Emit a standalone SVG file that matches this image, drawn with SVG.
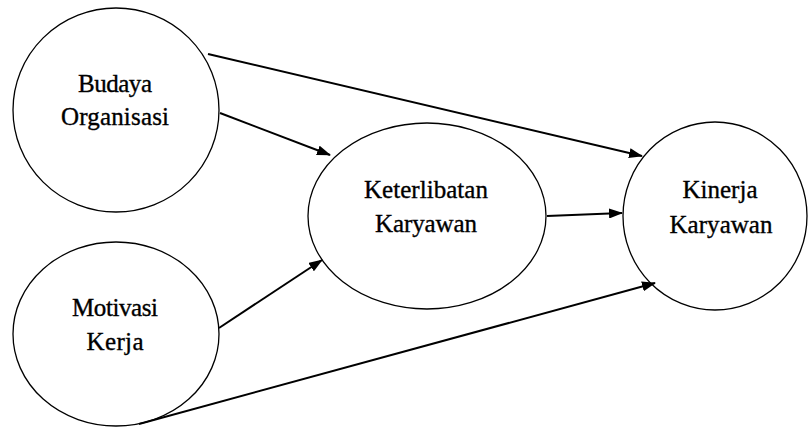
<svg xmlns="http://www.w3.org/2000/svg" width="808" height="428" viewBox="0 0 808 428">
<style>
.node{fill:#fff;stroke:#000;stroke-width:1.3}
.lbl{font-family:"Liberation Serif","Times New Roman",serif;font-size:25px;fill:#000;stroke:#000;stroke-width:0.35;text-anchor:middle}
.con{stroke:#000;stroke-width:2;fill:none;marker-end:url(#ah)}
</style>
<defs>
<marker id="ah" markerWidth="14" markerHeight="10" refX="13" refY="5" orient="auto" markerUnits="userSpaceOnUse">
<path d="M0,0 L14,5 L0,10 Z" fill="#000"/>
</marker>
</defs>
<rect width="808" height="428" fill="#fff"/>
<g id="budaya">
<ellipse class="node" cx="116" cy="110" rx="103" ry="102"/>
<text class="lbl" x="115" y="92" textLength="74" lengthAdjust="spacing">Budaya</text>
<text class="lbl" x="115" y="125" textLength="108" lengthAdjust="spacing">Organisasi</text>
</g>
<g id="motivasi">
<ellipse class="node" cx="116" cy="334" rx="103" ry="92"/>
<text class="lbl" x="115" y="316" textLength="86" lengthAdjust="spacing">Motivasi</text>
<text class="lbl" x="115" y="350" textLength="57" lengthAdjust="spacing">Kerja</text>
</g>
<g id="keterlibatan">
<ellipse class="node" cx="427" cy="216" rx="119" ry="93"/>
<text class="lbl" x="426" y="198" textLength="124" lengthAdjust="spacing">Keterlibatan</text>
<text class="lbl" x="426" y="232" textLength="102" lengthAdjust="spacing">Karyawan</text>
</g>
<g id="kinerja">
<ellipse class="node" cx="715" cy="216" rx="92" ry="94"/>
<text class="lbl" x="720" y="198" textLength="75" lengthAdjust="spacing">Kinerja</text>
<text class="lbl" x="721" y="233" textLength="103" lengthAdjust="spacing">Karyawan</text>
</g>
<g id="connectors">
<line class="con" x1="208" y1="54" x2="642" y2="156"/>
<line class="con" x1="220" y1="113" x2="330" y2="155"/>
<line class="con" x1="219" y1="328" x2="322" y2="260"/>
<line class="con" x1="547" y1="216" x2="622" y2="213"/>
<line class="con" x1="139" y1="424" x2="655" y2="283"/>
</g>
</svg>
